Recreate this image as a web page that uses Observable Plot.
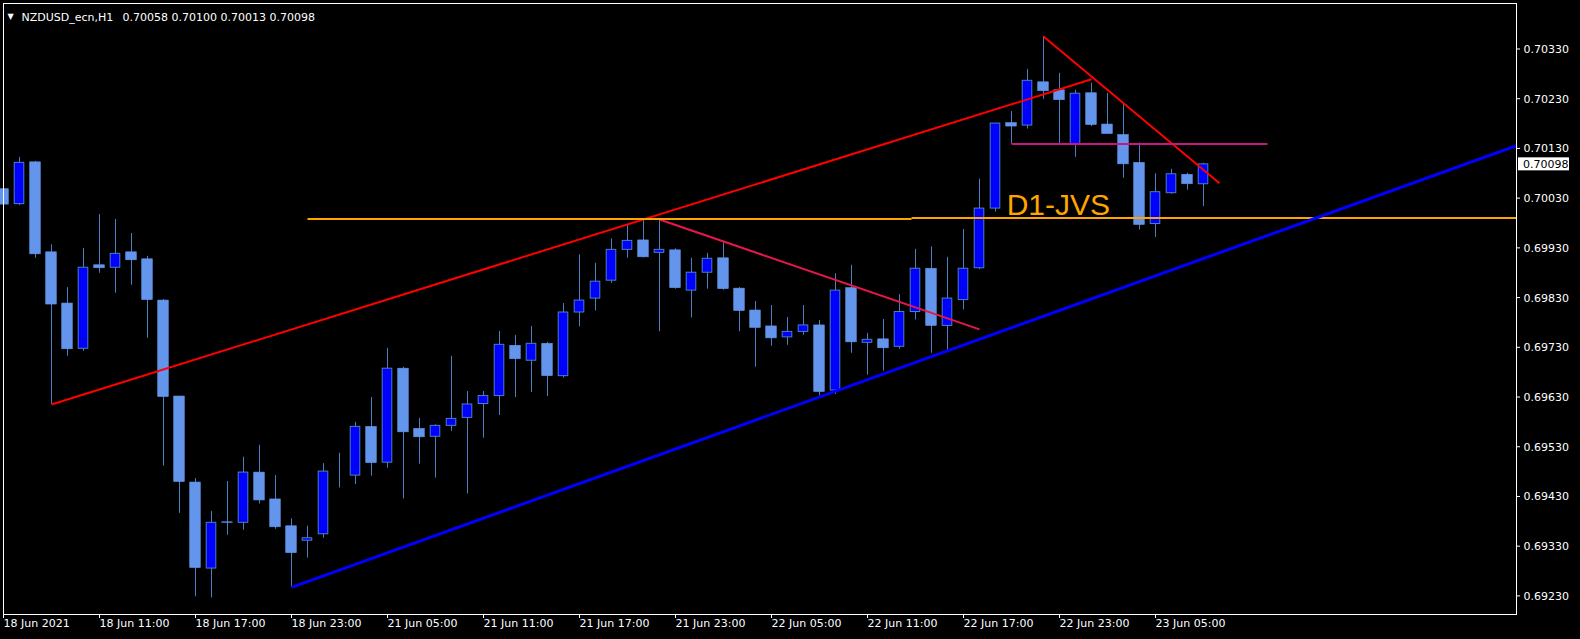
<!DOCTYPE html>
<html><head><meta charset="utf-8">
<script src="https://cdn.jsdelivr.net/npm/d3@7"></script>
<script src="https://cdn.jsdelivr.net/npm/@observablehq/plot@0.6"></script>
<style>
html,body{margin:0;padding:0;background:#000;overflow:hidden;}
</style></head><body><div id="chart"></div>
<script>
// ---- data ----
const symbol = "NZDUSD_ecn";
const timeframe = "H1";
const opens = [0.70048,0.70018,0.70102,0.69921,0.69818,0.69727,0.69895,0.69890,0.69921,0.69907,
0.69824,0.69631,0.69458,0.69285,0.69378,0.69377,0.69478,0.69424,0.69370,0.69341,
0.69354,0.69476,0.69472,0.69570,0.69498,0.69687,0.69566,0.69550,0.69572,0.69588,
0.69616,0.69632,0.69733,0.69703,0.69737,0.69672,0.69800,0.69828,0.69864,0.69926,
0.69945,0.69920,0.69925,0.69844,0.69880,0.69909,0.69848,0.69804,0.69772,0.69750,
0.69761,0.69774,0.69643,0.69849,0.69739,0.69746,0.69731,0.69801,0.69888,0.69773,
0.69825,0.69889,0.70009,0.70181,0.70176,0.70263,0.70247,0.70137,0.70241,0.70178,
0.70157,0.70101,0.69978,0.70040,0.70077,0.70058];
const highs = [0.70058,0.70112,0.70104,0.69936,0.69850,0.69929,0.69997,0.69987,0.69959,0.69913,
0.69826,0.69631,0.69466,0.69400,0.69460,0.69509,0.69533,0.69472,0.69385,0.69370,
0.69496,0.69517,0.69579,0.69629,0.69728,0.69690,0.69587,0.69574,0.69712,0.69641,
0.69641,0.69762,0.69754,0.69772,0.69740,0.69818,0.69916,0.69899,0.69948,0.69975,
0.69987,0.69987,0.69928,0.69909,0.69919,0.69940,0.69850,0.69822,0.69814,0.69790,
0.69814,0.69784,0.69878,0.69895,0.69758,0.69786,0.69836,0.69927,0.69932,0.69911,
0.69967,0.70068,0.70180,0.70204,0.70289,0.70355,0.70281,0.70247,0.70261,0.70241,
0.70218,0.70141,0.70079,0.70088,0.70080,0.70100];
const lows = [0.69989,0.70015,0.69909,0.69615,0.69712,0.69722,0.69879,0.69839,0.69855,0.69748,
0.69491,0.69396,0.69228,0.69226,0.69352,0.69362,0.69415,0.69364,0.69247,0.69306,
0.69346,0.69447,0.69454,0.69471,0.69487,0.69425,0.69495,0.69467,0.69561,0.69435,
0.69547,0.69593,0.69629,0.69639,0.69631,0.69668,0.69771,0.69803,0.69859,0.69909,
0.69910,0.69761,0.69847,0.69789,0.69847,0.69845,0.69761,0.69690,0.69732,0.69734,
0.69754,0.69632,0.69635,0.69718,0.69674,0.69682,0.69726,0.69785,0.69718,0.69724,
0.69805,0.69886,0.70002,0.70139,0.70169,0.70229,0.70139,0.70112,0.70174,0.70159,
0.70070,0.69966,0.69951,0.70038,0.70046,0.70013];
const closes = [0.70017,0.70101,0.69917,0.69816,0.69726,0.69890,0.69889,0.69918,0.69905,0.69825,
0.69630,0.69459,0.69286,0.69377,0.69377,0.69478,0.69422,0.69368,0.69316,0.69346,
0.69480,0.69476,0.69570,0.69497,0.69687,0.69559,0.69549,0.69572,0.69586,0.69615,
0.69632,0.69735,0.69706,0.69737,0.69672,0.69800,0.69824,0.69862,0.69926,0.69944,
0.69911,0.69926,0.69849,0.69880,0.69908,0.69847,0.69803,0.69769,0.69748,0.69761,
0.69774,0.69640,0.69844,0.69740,0.69745,0.69728,0.69801,0.69888,0.69773,0.69828,
0.69888,0.70009,0.70180,0.70174,0.70266,0.70245,0.70227,0.70240,0.70177,0.70159,
0.70098,0.69976,0.70042,0.70078,0.70058,0.70098];

const xTickBars = [0,6,12,18,24,30,36,42,48,54,60,66,72];
const xTickLabels = ["18 Jun 2021","18 Jun 11:00","18 Jun 17:00","18 Jun 23:00","21 Jun 05:00","21 Jun 11:00","21 Jun 17:00","21 Jun 23:00","22 Jun 05:00","22 Jun 11:00","22 Jun 17:00","22 Jun 23:00","23 Jun 05:00"];
const yTicks = [0.69230,0.69330,0.69430,0.69530,0.69630,0.69730,0.69830,0.69930,0.70030,0.70130,0.70230,0.70330];
const xDomain = [0, 94.5625];
const yDomain = [0.691926, 0.704215];

// drawn objects (anchor bar index, price)
const upperRedBars = [3, 68],   upperRedPrices = [0.69615, 0.70269];
const topRedBars = [65, 76],    topRedPrices = [0.70355, 0.70060];
const midRedBars = [41, 61],    midRedPrices = [0.69987, 0.69766];
const blueBars = [18, 51],      bluePrices = [0.69247, 0.69630];
const orange1Bars = [19, 56.75], orange1Price = 0.69988;
const orange2Bars = [56.75],     orange2Price = 0.69990;
const magentaBars = [63, 79],   magentaPrice = 0.70139;
const labelText = "D1-JVS", labelBar = 62.7, labelPrice = 0.70015;

// ---- build ----
const bars = opens.map((o, i) => ({bar: i, open: o, high: highs[i], low: lows[i], close: closes[i]}));
const bull = bars.filter(d => d.close >= d.open);
const bear = bars.filter(d => d.close < d.open);
const last = bars[bars.length - 1];
const f5 = v => v.toFixed(5);

const W = 1580, H = 639, mL = 3, mR = 64, mT = 3, mB = 25;
const frameW = W - mL - mR, frameH = H - mT - mB;

function seg(b, p) { return {x1: b[0], y1: p[0], x2: b[1], y2: p[1]}; }
function ray(b, p) {
  const xe = xDomain[1];
  return {x1: b[0], y1: p[0], x2: xe, y2: p[0] + (p[1] - p[0]) * (xe - b[0]) / (b[1] - b[0])};
}
const links = [
  {...seg(upperRedBars, upperRedPrices), c: "#ff0000", w: 2},
  {...seg(topRedBars, topRedPrices), c: "#ff0000", w: 2},
  {...seg(midRedBars, midRedPrices), c: "#e8174a", w: 2},
  {...seg(orange1Bars, [orange1Price, orange1Price]), c: "#ffa500", w: 2},
  {x1: orange2Bars[0], y1: orange2Price, x2: xDomain[1], y2: orange2Price, c: "#ffa500", w: 2},
  {...seg(magentaBars, [magentaPrice, magentaPrice]), c: "#c71585", w: 2},
  {...ray(blueBars, bluePrices), c: "#0000ff", w: 3}
];

const wick = "#4a7fc0";
const chart = Plot.plot({
  width: W, height: H, marginLeft: mL, marginRight: mR, marginTop: mT, marginBottom: mB,
  style: {background: "#000", color: "#fff", fontFamily: "'DejaVu Sans', sans-serif", fontSize: "11px", overflow: "visible"},
  x: {domain: xDomain, axis: null},
  y: {domain: yDomain, axis: null},
  marks: [
    Plot.ruleX(bars, {x: "bar", y1: "low", y2: "high", stroke: wick, strokeWidth: 1}),
    Plot.rect(bear, {x1: d => d.bar - 0.33, x2: d => d.bar + 0.33, y1: "open", y2: "close", fill: "#6495ed", stroke: "#6495ed", strokeWidth: 0.6}),
    Plot.rect(bull, {x1: d => d.bar - 0.3, x2: d => d.bar + 0.3, y1: "open", y2: "close", fill: "#0000ff", stroke: wick, strokeWidth: 1}),
    Plot.link(links, {x1: "x1", y1: "y1", x2: "x2", y2: "y2", stroke: "c", strokeWidth: "w", clip: true}),
    Plot.text([labelText], {x: labelBar, y: labelPrice, text: d => d, textAnchor: "start", fontSize: 30, fill: "#ffa500", fontFamily: "'Liberation Sans', Arial, sans-serif"}),
    Plot.frame({stroke: "#fff", strokeWidth: 1}),
    Plot.ruleY(yTicks, {y: d => d, insetLeft: frameW, insetRight: -4, stroke: "#fff"}),
    Plot.text(yTicks, {y: d => d, text: d => f5(d), frameAnchor: "right", textAnchor: "start", dx: 7, dy: 0.5, fill: "#fff"}),
    Plot.ruleX(xTickBars, {x: d => d, insetTop: frameH, insetBottom: -4, stroke: "#fff"}),
    Plot.text(xTickBars, {x: d => d, text: (d, i) => xTickLabels[i], frameAnchor: "bottom", textAnchor: "start", dy: 12.5, fill: "#fff"}),
    Plot.text(["\u25BC"], {frameAnchor: "top-left", text: d => d, dx: 4, dy: 10, fontSize: 8, textAnchor: "start", fill: "#fff"}),
    Plot.text([`${symbol},${timeframe}`], {frameAnchor: "top-left", text: d => d, dx: 18, dy: 10, textAnchor: "start", fill: "#fff"}),
    Plot.text([[last.open, last.high, last.low, last.close].map(f5).join(" ")], {frameAnchor: "top-left", text: d => d, dx: 119, dy: 10, textAnchor: "start", fill: "#fff"})
  ]
});
document.getElementById("chart").appendChild(chart);

// current price box on the price axis
const ys = chart.scale("y");
const py = ys.range[0] + (last.close - ys.domain[0]) / (ys.domain[1] - ys.domain[0]) * (ys.range[1] - ys.range[0]);
const g = d3.select(chart).append("g");
g.append("rect").attr("x", W - mR + 2).attr("y", py - 6.5).attr("width", 51).attr("height", 13).attr("fill", "#fff");
g.append("text").attr("x", W - mR + 7).attr("y", py).attr("dy", "0.36em").attr("fill", "#000")
  .attr("text-anchor", "start").attr("font-size", 11).attr("font-family", "'DejaVu Sans', sans-serif").text(f5(last.close));
</script></body></html>
